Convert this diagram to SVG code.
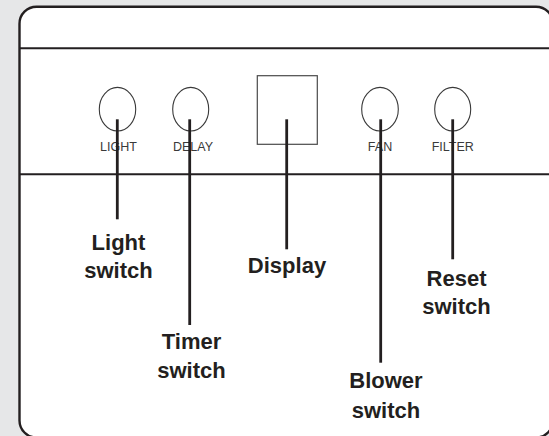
<svg xmlns="http://www.w3.org/2000/svg" width="549" height="436" viewBox="0 0 549 436">
<style>
.bg{fill:#e6e7e8}
.panel{fill:#ffffff;stroke:#231f20;stroke-width:2.4}
.rule{stroke:#231f20;stroke-width:2;fill:none}
.btn{fill:none;stroke:#3a3a3a;stroke-width:1.1}
.disp{fill:none;stroke:#4a4a4a;stroke-width:1.2}
.small{font-family:"Liberation Sans",Arial,sans-serif;font-size:12.5px;fill:#3a3a3a;text-anchor:middle}
.big{font-family:"Liberation Sans",Arial,sans-serif;font-size:22px;font-weight:bold;fill:#231f20;text-anchor:middle}
.lead{stroke:#231f20;stroke-width:2.8;fill:none}
</style>
<rect class="bg" x="0" y="0" width="549" height="436"/>
<g id="panel">
<rect class="panel" x="19.5" y="6.7" width="533.5" height="430.8" rx="17" ry="17"/>
<line class="rule" x1="19.5" y1="48.3" x2="555" y2="48.3"/>
<line class="rule" x1="19.5" y1="174.3" x2="555" y2="174.3"/>
</g>
<g id="btn-light">
<ellipse class="btn" cx="117.5" cy="109.2" rx="18.2" ry="21.8"/>
<text class="small" x="118.5" y="151">LIGHT</text>
</g>
<g id="btn-delay">
<ellipse class="btn" cx="190.7" cy="109.2" rx="18" ry="21.8"/>
<text class="small" x="193" y="151">DELAY</text>
</g>
<g id="display">
<rect class="disp" x="257.3" y="75.7" width="60" height="68.6"/>
</g>
<g id="btn-fan">
<ellipse class="btn" cx="380" cy="109.2" rx="18.3" ry="21.8"/>
<text class="small" x="380" y="151">FAN</text>
</g>
<g id="btn-filter">
<ellipse class="btn" cx="452.7" cy="109.2" rx="18" ry="21.8"/>
<text class="small" x="452.7" y="151">FILTER</text>
</g>
<g id="connectors">
<line class="lead" x1="117.3" y1="119.3" x2="117.3" y2="219.3"/>
<line class="lead" x1="189.7" y1="119.3" x2="189.7" y2="325"/>
<line class="lead" x1="286.7" y1="119.3" x2="286.7" y2="249.3"/>
<line class="lead" x1="380.7" y1="119.3" x2="380.7" y2="362.7"/>
<line class="lead" x1="452.7" y1="119.3" x2="452.7" y2="259.3"/>
</g>
<g id="label-light">
<text class="big" x="118.5" y="250">Light</text>
<text class="big" x="118.5" y="278">switch</text>
</g>
<g id="label-timer">
<text class="big" x="191.5" y="349">Timer</text>
<text class="big" x="191.5" y="378">switch</text>
</g>
<g id="label-display">
<text class="big" x="287" y="272.7">Display</text>
</g>
<g id="label-reset">
<text class="big" x="456.5" y="286">Reset</text>
<text class="big" x="456.5" y="314.3">switch</text>
</g>
<g id="label-blower">
<text class="big" x="386" y="388">Blower</text>
<text class="big" x="386" y="418">switch</text>
</g>
</svg>
